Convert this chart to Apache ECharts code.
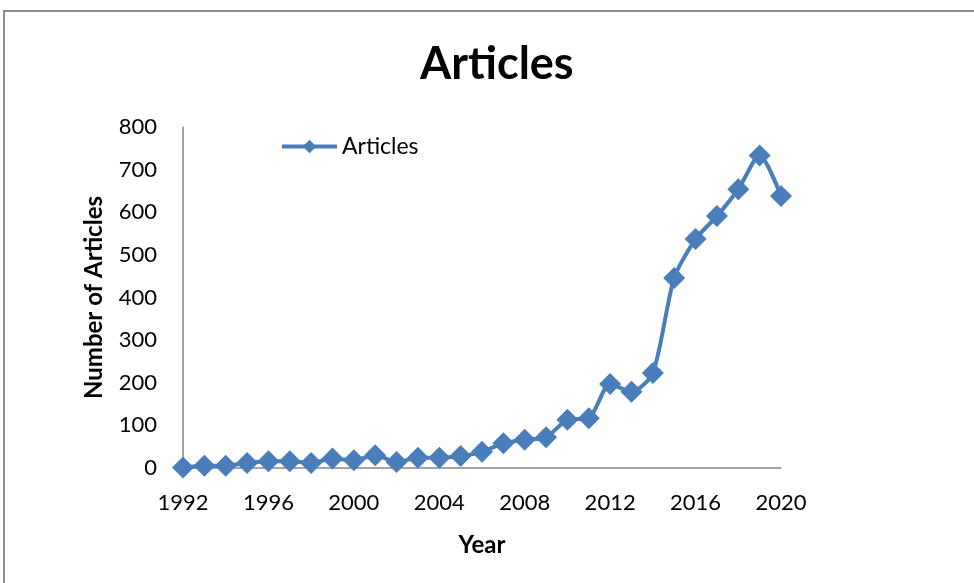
<!DOCTYPE html>
<html>
<head>
<meta charset="utf-8">
<script src="https://cdn.jsdelivr.net/npm/echarts@6/dist/echarts.min.js"></script>
<style>
html,body{margin:0;padding:0;background:#fff;}
#main{width:974px;height:583px;}
</style>
</head>
<body>
<div id="main"></div>
<script>
const years = ['1992','1993','1994','1995','1996','1997','1998','1999','2000','2001','2002','2003','2004','2005','2006','2007','2008','2009','2010','2011','2012','2013','2014','2015','2016','2017','2018','2019','2020'];
const articles = [1,5,5,12,16,16,12,22,18,30,14,24,24,28,38,58,66,72,113,117,197,179,223,446,537,591,654,733,638];
const yTicks = {min:0, max:800, interval:100};

const FONT = 'Lato';
const chart = echarts.init(document.getElementById('main'), null, {renderer:'canvas'});
chart.setOption({
  backgroundColor:'#fff',
  animation:false,
  graphic:[{
    type:'rect', silent:true, z:-1,
    shape:{x:4, y:11, width:1100, height:1000},
    style:{fill:'none', stroke:'#8c8c8c', lineWidth:2}
  }],
  title:{
    text:'Articles', left:415, top:37,
    textStyle:{fontFamily:FONT, fontWeight:'bold', fontSize:45, color:'#000'}
  },
  legend:{
    left:275, top:130, itemWidth:55, itemHeight:17, itemGap:2,
    lineStyle:{width:4},
    textStyle:{fontFamily:FONT, fontSize:23, color:'#000'},
    data:['Articles']
  },
  grid:{left:183, right:193, top:127, bottom:115, containLabel:false},
  xAxis:{
    type:'category', data:years, boundaryGap:false,
    name:'Year', nameLocation:'middle', nameGap:65,
    nameTextStyle:{fontFamily:FONT, fontWeight:'bold', fontSize:24, color:'#000'},
    axisLine:{lineStyle:{color:'#868686', width:1.5}},
    axisTick:{show:false},
    axisLabel:{interval:3, fontFamily:FONT, fontSize:22, color:'#000', margin:24},
    splitLine:{show:false}
  },
  yAxis:{
    type:'value', min:yTicks.min, max:yTicks.max, interval:yTicks.interval,
    name:'Number of Articles', nameLocation:'middle', nameGap:77, nameRotate:90,
    nameTextStyle:{fontFamily:FONT, fontWeight:'bold', fontSize:24, color:'#000'},
    axisLine:{show:true, lineStyle:{color:'#868686', width:1.5}},
    axisTick:{show:false},
    axisLabel:{fontFamily:FONT, fontSize:22, color:'#000', margin:26},
    splitLine:{show:false}
  },
  series:[{
    name:'Articles', type:'line', data:articles,
    smooth:0.25, showAllSymbol:true,
    symbol:'diamond', symbolSize:22,
    lineStyle:{color:'#4a7ebb', width:4},
    itemStyle:{color:'#4a7ebb'},
    clip:false
  }]
});
</script>
</body>
</html>
